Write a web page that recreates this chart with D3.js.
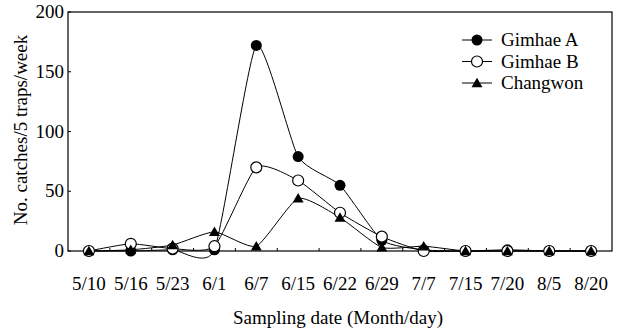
<!DOCTYPE html>
<html>
<head>
<meta charset="utf-8">
<script src="https://cdn.jsdelivr.net/npm/d3@7"></script>
<style>
  body { margin: 0; background: #fff; }
</style>
</head>
<body>
<svg id="chart" width="628" height="331" font-family="'Liberation Serif', 'Times New Roman', serif"></svg>
<script>
// sampling dates (month/day)
const dates = ['5/10', '5/16', '5/23', '6/1', '6/7', '6/15', '6/22', '6/29', '7/7', '7/15', '7/20', '8/5', '8/20']
const gimhaeA = [0, 0, 1, 1, 172, 79, 55, 9, 1, 0, 1, 0, 0]
const gimhaeB = [0, 6, 2, 4, 70, 59, 32, 12, 0, 0, 0, 0, 0]
const changwon = [0, 1, 5, 16, 4, 44, 28, 3, 4, 0, 0, 0, 0]
const yTicks = [0, 50, 100, 150, 200]

const series = [
  { name: 'Gimhae A', values: gimhaeA, marker: 'filled' },
  { name: 'Gimhae B', values: gimhaeB, marker: 'open' },
  { name: 'Changwon', values: changwon, marker: 'triangle' },
]

const svg = d3.select('#chart')
const plotL = 68, plotR = 612, plotT = 12, plotB = 251

const x = d3.scaleBand().domain(dates).range([plotL, plotR])
const y = d3.scaleLinear().domain([0, 200]).range([plotB, plotT])
const cx = d => x(d) + x.bandwidth() / 2

// frame
svg.append('rect')
  .attr('x', plotL).attr('y', plotT)
  .attr('width', plotR - plotL).attr('height', plotB - plotT)
  .attr('fill', 'none').attr('stroke', '#000').attr('stroke-width', 1.2)

// x ticks at band boundaries, pointing inward
svg.selectAll('.xtick')
  .data(dates.slice(1))
  .enter().append('line')
  .attr('x1', d => x(d)).attr('x2', d => x(d))
  .attr('y1', plotB).attr('y2', plotB - 3)
  .attr('stroke', '#000')

svg.selectAll('.ytick')
  .data(yTicks)
  .enter().append('line')
  .attr('x1', plotL).attr('x2', plotL + 3)
  .attr('y1', d => y(d)).attr('y2', d => y(d))
  .attr('stroke', '#000')

svg.selectAll('.xlab')
  .data(dates)
  .enter().append('text')
  .attr('x', d => cx(d)).attr('y', 290)
  .attr('text-anchor', 'middle')
  .attr('font-size', 19)
  .text(d => d)

svg.selectAll('.ylab')
  .data(yTicks)
  .enter().append('text')
  .attr('x', plotL - 4).attr('y', d => y(d) + 6)
  .attr('text-anchor', 'end')
  .attr('font-size', 19)
  .text(d => d)

svg.append('text')
  .attr('x', 338).attr('y', 324)
  .attr('text-anchor', 'middle')
  .attr('font-size', 19)
  .text('Sampling date (Month/day)')

svg.append('text')
  .attr('transform', 'translate(27,130) rotate(-90)')
  .attr('text-anchor', 'middle')
  .attr('font-size', 19)
  .text('No. catches/5 traps/week')

const line = d3.line()
  .x((d, i) => cx(dates[i]))
  .y(d => y(d))
  .curve(d3.curveCardinal.tension(0.45))

series.forEach(s => {
  svg.append('path')
    .attr('d', line(s.values))
    .attr('fill', 'none')
    .attr('stroke', '#000')
    .attr('stroke-width', 1)
})

const tri = d3.symbol().type(d3.symbolTriangle).size(52)

function drawMarker(g, kind, px, py) {
  if (kind === 'filled') {
    g.append('circle').attr('cx', px).attr('cy', py).attr('r', 5.5)
      .attr('fill', '#000')
  } else if (kind === 'open') {
    g.append('circle').attr('cx', px).attr('cy', py).attr('r', 5.5)
      .attr('fill', '#fff').attr('stroke', '#000').attr('stroke-width', 1.2)
  } else {
    g.append('path').attr('d', tri())
      .attr('transform', `translate(${px},${py + 1})`)
      .attr('fill', '#000')
  }
}

const marks = svg.append('g')
series.forEach(s => {
  s.values.forEach((v, i) => drawMarker(marks, s.marker, cx(dates[i]), y(v)))
})

// legend
const legend = svg.append('g')
series.forEach((s, i) => {
  const ly = 40 + i * 21.5
  legend.append('line')
    .attr('x1', 462).attr('x2', 492)
    .attr('y1', ly).attr('y2', ly)
    .attr('stroke', '#000')
  drawMarker(legend, s.marker, 477, ly)
  legend.append('text')
    .attr('x', 501).attr('y', ly + 6)
    .attr('font-size', 19)
    .text(s.name)
})
</script>
</body>
</html>
